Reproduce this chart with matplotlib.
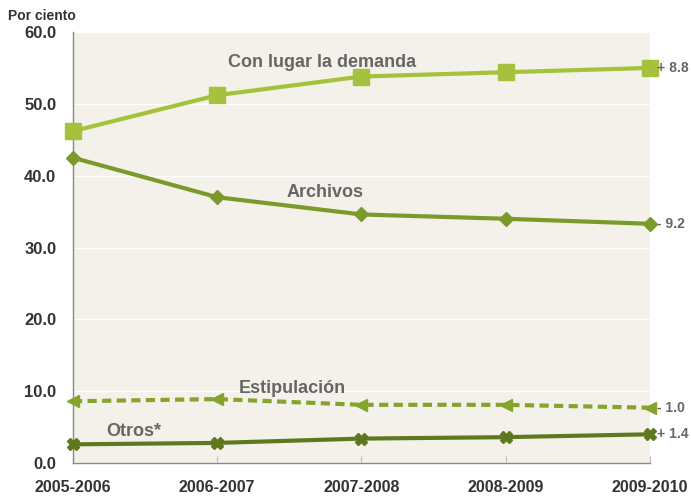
import matplotlib
matplotlib.use("Agg")
import matplotlib.pyplot as plt

periods = ["2005-2006", "2006-2007", "2007-2008", "2008-2009", "2009-2010"]
con_lugar = [46.2, 51.2, 53.8, 54.4, 55.0]
archivos = [42.5, 37.0, 34.6, 34.0, 33.3]
estipulacion = [8.6, 8.9, 8.1, 8.1, 7.7]
otros = [2.6, 2.8, 3.4, 3.6, 4.0]
yticks = [0, 10, 20, 30, 40, 50, 60]
changes = ["+ 8.8", "- 9.2", "- 1.0", "+ 1.4"]

FONT = ["Liberation Sans Narrow", "Liberation Sans", "DejaVu Sans"]

fig = plt.figure(figsize=(6.91, 4.99), dpi=100)
ax = fig.add_axes([0.1056, 0.0721, 0.8351, 0.8638])
ax.set_facecolor("#F3F1EA")
x = list(range(len(periods)))

c1, c2, c3, c4 = "#A6C23C", "#7A9A2A", "#86A32E", "#5F7820"
ax.plot(x, con_lugar, color=c1, lw=3, marker="s", ms=11, zorder=3, clip_on=False)
ax.plot(x, archivos, color=c2, lw=3, marker="D", ms=7, zorder=3, clip_on=False)
ax.plot(x, estipulacion, color=c3, lw=3, ls=(0, (2.2, 1.3)), marker="<", ms=9, zorder=3, clip_on=False)
ax.plot(x, otros, color=c4, lw=3, marker="X", ms=9, zorder=3, clip_on=False)

ax.set_xlim(0, 4)
ax.set_ylim(0, 60)
ax.set_yticks(yticks)
ax.set_yticklabels([f"{v:.1f}" for v in yticks], fontfamily=FONT, fontweight="bold",
                   fontsize=12, color="#333333")
ax.set_xticks(x)
ax.set_xticklabels(periods, fontfamily=FONT, fontweight="bold", fontsize=11.5, color="#333333")
ax.grid(axis="y", color="white", lw=1)
ax.set_axisbelow(True)
ax.tick_params(axis="y", length=0, pad=12)
ax.tick_params(axis="x", length=5, color="#BBBBBB", direction="in", pad=12)
for s in ["top", "right"]:
    ax.spines[s].set_visible(False)
for s in ["left", "bottom"]:
    ax.spines[s].set_color("#888888")
    ax.spines[s].set_linewidth(1)

lab = dict(fontfamily=FONT, fontweight="bold", fontsize=13, color="#666666")
ax.text(1.73, 55.8, "Con lugar la demanda", ha="center", va="center", **lab)
ax.text(1.75, 37.6, "Archivos", ha="center", va="center", **lab)
ax.text(1.52, 10.4, "Estipulación", ha="center", va="center", **lab)
ax.text(0.42, 4.45, "Otros*", ha="center", va="center", **lab)

end = dict(lab, fontsize=10)
for v, t in zip([con_lugar[-1], archivos[-1], estipulacion[-1], otros[-1]], changes):
    ax.annotate(t, (4, v), xytext=(5, 0), textcoords="offset points", ha="left", va="center",
                annotation_clip=False, zorder=6, **end)

fig.text(0.012, 0.968, "Por ciento", fontfamily=FONT, fontweight="bold", fontsize=10, color="#333333",
         ha="left", va="center")

fig.savefig("out.png", dpi=100)
